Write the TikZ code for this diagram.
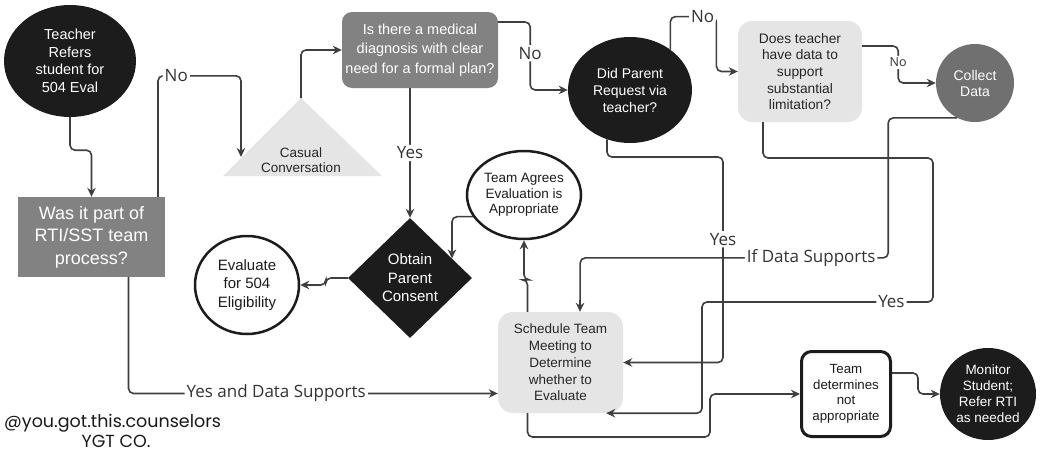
\documentclass[tikz,border=0pt]{standalone}
\usepackage{fontspec}
\setmainfont{Liberation Sans}
\newfontfamily\labelfont{Open Sans}
\newfontfamily\tagfont{Poppins}
\usepackage{tikz}
\usetikzlibrary{positioning}
\usetikzlibrary{calc}
\usetikzlibrary{shapes.geometric}
\usetikzlibrary{arrows.meta}

\definecolor{ink}{HTML}{1C1C1C}
\definecolor{wirecol}{HTML}{3F3F3F}
\definecolor{midgray}{HTML}{828282}
\definecolor{darkgray}{HTML}{707070}
\definecolor{palegray}{HTML}{E5E5E5}

\begin{document}
\begin{tikzpicture}
 [ x=1pt, y=-1pt
 , every node/.style={align=center, inner sep=0pt}
 , blackoval/.style={ellipse, fill=ink, text=white}
 , whiteoval/.style={ellipse, draw=ink, line width=2.5, fill=white, text=ink}
 , greybox/.style={rectangle, fill=midgray, text=white}
 , palebox/.style={rectangle, fill=palegray, text=black!85}
 , wire/.style={draw=wirecol, line width=1.6, rounded corners=5, -{Stealth[length=9pt, width=8.5pt]}}
 , lbl/.style={fill=white, inner sep=2, text=black!80, font=\labelfont\fontsize{17}{17}\selectfont}
 , small lbl/.style={lbl, font=\labelfont\fontsize{12.5}{12.5}\selectfont}
 ]
  \useasboundingbox (0,0) rectangle (1042,455);

  % left column
  \node (teacher) [blackoval, minimum width=132, minimum height=112, font=\fontsize{14.5}{17.5}\selectfont]
    at (70,61) {Teacher\\Refers\\student for\\504 Eval};
  \node (rti) [greybox, minimum width=147, minimum height=80, font=\fontsize{18}{22.5}\selectfont]
    at (91.5,237) {Was it part of\\RTI/SST team\\process?};

  \fill [palegray] (223,176) -- (301,98) -- (382,176) -- cycle;
  \node (casual) [text=black!85, font=\fontsize{13.5}{15}\selectfont] at (301,160) {Casual\\Conversation};
  \coordinate (casual top) at (301,98);
  \coordinate (casual edge) at (241,157);

  % top row
  \node (medical) [greybox, rounded corners=10, minimum width=156, minimum height=76, font=\fontsize{14.5}{19.5}\selectfont]
    at (420,50) {Is there a medical\\diagnosis with clear\\need for a formal plan?};
  \node (parent) [blackoval, minimum width=124, minimum height=106, font=\fontsize{14}{17}\selectfont]
    at (630,90) {Did Parent\\Request via\\teacher?};
  \node (data) [palebox, rounded corners=14, minimum width=124, minimum height=101, font=\fontsize{13.8}{16.6}\selectfont]
    at (800,71.5) {Does teacher\\have data to\\support\\substantial\\limitation?};
  \node (collect) [circle, fill=darkgray, text=white, minimum size=78, font=\fontsize{14}{16}\selectfont]
    at (975,83) {Collect\\Data};

  % middle
  \node (agrees) [whiteoval, minimum width=114, minimum height=88, font=\fontsize{13.5}{15.5}\selectfont]
    at (524,195) {Team Agrees\\Evaluation is\\Appropriate};
  \node (consent) [diamond, fill=ink, text=white, minimum width=124, minimum height=120, font=\fontsize{15}{18.5}\selectfont]
    at (410,278) {Obtain\\Parent\\Consent};
  \node (evaluate) [whiteoval, minimum width=104, minimum height=98, font=\fontsize{15}{18.5}\selectfont]
    at (247,285) {Evaluate\\for 504\\Eligibility};

  % bottom row
  \node (schedule) [palebox, rounded corners=15, minimum width=125, minimum height=101, font=\fontsize{13.5}{16.7}\selectfont]
    at (560.5,362.5) {Schedule Team\\Meeting to\\Determine\\whether to\\Evaluate};
  \node (notfit) [draw=ink, line width=3, fill=white, text=ink, rounded corners=10, minimum width=89, minimum height=85, font=\fontsize{13.3}{15.5}\selectfont]
    at (846,394) {Team\\determines\\not\\appropriate};
  \node (monitor) [blackoval, minimum width=96, minimum height=92, font=\fontsize{13.5}{16}\selectfont]
    at (988,394) {Monitor\\Student;\\Refer RTI\\as needed};

  \node (handle) [anchor=west, text=black!90, font=\tagfont\fontsize{17.5}{17.5}\selectfont] at (4,423) {@you.got.this.counselors};
  \node (brand) [text=black!90, font=\tagfont\fontsize{17.5}{17.5}\selectfont] at (116,441) {YGT CO.};

  % connectors
  \draw [wire] (teacher.south) -- ++(0,33) -| (rti.north);
  \draw [wire] ([xshift=66.5]rti.north) -- ++(0,-121) -- node [lbl, pos=.22] {No} ++(83,0) -- (casual edge);
  \draw [wire] (casual top) |- (medical.west);
  \draw [wire] ([yshift=28]medical.east) -- ++(32,0) |- node [lbl, pos=.23] {No} (parent.west);
  \draw [wire] (consent.north |- medical.south) -- node [lbl] {Yes} (consent.north);
  \draw [wire] (parent.45) -- ++(0,-33) -- node [lbl, pos=.7] {No} ++(46,0) |- (data.west);
  \draw [wire] ([yshift=25.5]data.east) -- ++(36,0) |- node [small lbl, pos=.22] {No} (collect.west);
  \draw [wire] (collect.243) -- ++(-69,0) -- ++(0,140) -- node [lbl, pos=.25] {If Data Supports} ++(-308,0)
    -- ([xshift=19.5]schedule.north);
  \draw [wire] ([xshift=-37]data.south) |- (933,158) |- node [lbl, pos=.59] {Yes} (702,302)
    |- ([xshift=-17]schedule.south east);
  \draw [wire] (parent.245) |- (723,157) |- node [lbl, pos=.2] {Yes} (schedule.east);
  \draw [wire] ([xshift=-33]schedule.north) -- ++(0,-32) -| (agrees.south);
  \draw [wire] (agrees.203) -| (consent.25);
  \draw [wire] (consent.west) -- ++(-22,0) |- (evaluate.east);
  \draw [wire] ([xshift=37]rti.south) |- node [lbl, pos=.7] {Yes and Data Supports} ([yshift=-31]schedule.west);
  \draw [wire] ([xshift=-33]schedule.south) |- (710,437) |- (notfit.west);
  \draw [wire] ([yshift=21]notfit.east) -- ++(26,0) |- (monitor.west);
\end{tikzpicture}
\end{document}
